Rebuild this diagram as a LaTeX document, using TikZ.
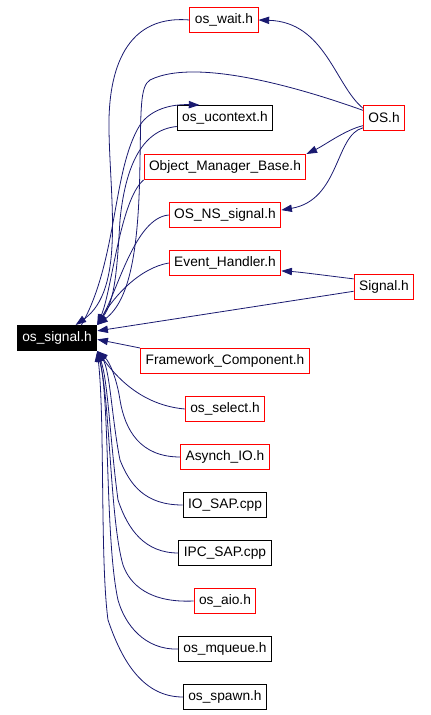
\documentclass[tikz,border=0pt]{standalone}
\usepackage{fontspec}
\setmainfont{Liberation Sans}
\usetikzlibrary{arrows.meta}
\definecolor{edgeblue}{HTML}{191970}
\begin{document}
\begin{tikzpicture}[x=0.75pt,y=-0.75pt,
	redbox/.style={draw=red,line width=0.75pt,minimum height=18.75pt,inner xsep=3.75pt,inner ysep=0pt,font=\fontsize{10.3}{12}\selectfont},
	blackbox/.style={redbox,draw=black},
	mainbox/.style={redbox,draw=black,fill=black,text=white},
	edge/.style={draw=edgeblue,line width=0.6pt,-{Triangle[length=8pt,width=5.5pt]}}]
	\useasboundingbox (0,0) rectangle (430,715);
	%nodes
	\node[mainbox] (sig) at (57,338) {os\_signal.h};
	\node[redbox] (wait) at (224,20) {os\_wait.h};
	\node[blackbox] (ucon) at (225,118) {os\_ucontext.h};
	\node[redbox] (osh) at (384,118) {OS.h};
	\node[redbox] (omb) at (225,167) {Object\_Manager\_Base.h};
	\node[redbox] (nss) at (225,215) {OS\_NS\_signal.h};
	\node[redbox] (evh) at (225,263) {Event\_Handler.h};
	\node[redbox] (sgh) at (384,287) {Signal.h};
	\node[redbox] (fwc) at (225,361) {Framework\_Component.h};
	\node[redbox] (sel) at (225,409) {os\_select.h};
	\node[redbox] (asy) at (225,457) {Asynch\_IO.h};
	\node[blackbox] (iosap) at (225,505) {IO\_SAP.cpp};
	\node[blackbox] (ipcsap) at (225,553) {IPC\_SAP.cpp};
	\node[redbox] (aio) at (225,601) {os\_aio.h};
	\node[blackbox] (mq) at (225,649) {os\_mqueue.h};
	\node[blackbox] (spw) at (225,697) {os\_spawn.h};
	%edges from OS.h
	\draw[edge] (osh.155) .. controls (335,85) and (325,22) .. (wait.east);
	\draw[edge] (osh.160) .. controls (320,95) and (200,55) .. (150,80) .. controls (140,86) and (141,110) .. (140,160) .. controls (139,250) and (130,300) .. (sig.north east);
	\draw[edge] (osh.200) .. controls (345,130) and (325,145) .. (omb.north east);
	\draw[edge] (osh.205) .. controls (335,135) and (340,200) .. (nss.5);
	%edges from Signal.h
	\draw[edge] (sgh.165) .. controls (330,276) and (300,272) .. (evh.-8);
	\draw[edge] (sgh.188) -- (sig.10);
	%upper column
	\draw[edge] (wait.west) .. controls (120,14) and (108,80) .. (109,130) .. controls (110,200) and (125,290) .. (sig.35);
	\draw[edge] (ucon.190) .. controls (140,130) and (125,170) .. (120,220) .. controls (117,270) and (115,300) .. (sig.north east);
	\draw[edge] (sig.28) .. controls (118,260) and (112,170) .. (140,125) .. controls (150,110) and (170,104) .. (ucon.153);
	\draw[edge] (omb.south west) .. controls (120,200) and (112,290) .. (sig.north east);
	\draw[edge] (nss.west) .. controls (135,218) and (118,290) .. (sig.north east);
	\draw[edge] (evh.west) .. controls (140,268) and (115,295) .. (sig.north east);
	%lower column
	\draw[edge] (fwc.north west) -- (sig.-2);
	\draw[edge] (sel.west) .. controls (140,405) and (115,375) .. (sig.south east);
	\draw[edge] (asy.west) .. controls (140,457) and (125,430) .. (120,400) .. controls (117,380) and (110,362) .. (sig.south east);
	\draw[edge] (iosap.west) .. controls (145,505) and (130,485) .. (120,460) .. controls (112,420) and (110,370) .. (sig.south east);
	\draw[edge] (ipcsap.west) .. controls (145,553) and (128,530) .. (118,500) .. controls (110,440) and (108,380) .. (sig.south east);
	\draw[edge] (aio.west) .. controls (150,603) and (130,585) .. (123,565) .. controls (110,520) and (110,400) .. (sig.south east);
	\draw[edge] (mq.west) .. controls (145,650) and (125,625) .. (118,600) .. controls (105,540) and (110,400) .. (sig.south east);
	\draw[edge] (spw.west) .. controls (140,697) and (120,655) .. (108,620) .. controls (100,560) and (105,420) .. (sig.south east);
\end{tikzpicture}
\end{document}
